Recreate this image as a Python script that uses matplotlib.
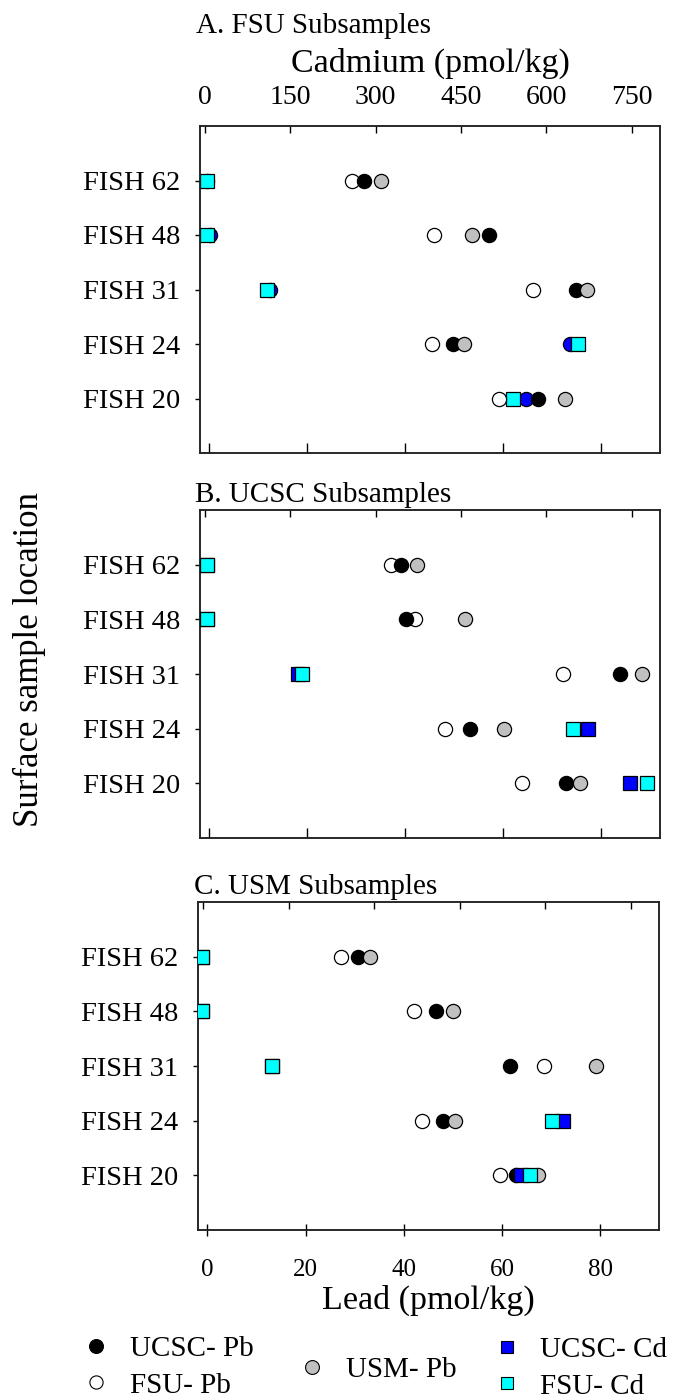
import matplotlib
matplotlib.use("Agg")
import matplotlib.pyplot as plt
from matplotlib.lines import Line2D

plt.rcParams['font.family'] = ['Liberation Serif', 'DejaVu Serif']

# ---------------- data ----------------
locations = ['FISH 62', 'FISH 48', 'FISH 31', 'FISH 24', 'FISH 20']
ypos = [5, 4, 3, 2, 1]

panel_titles = ['A. FSU Subsamples', 'B. UCSC Subsamples', 'C. USM Subsamples']

# Lead (pmol/kg)
pbA_ucsc = [31.6, 57.1, 74.9, 49.7, 67.1]
pbA_fsu = [29.1, 45.8, 66.0, 45.4, 59.1]
pbA_usm = [35.0, 53.6, 77.1, 51.9, 72.6]
pbB_ucsc = [39.2, 40.2, 83.8, 53.3, 72.8]
pbB_fsu = [37.1, 42.0, 72.1, 48.1, 63.8]
pbB_usm = [42.4, 52.2, 88.3, 60.2, 75.7]
pbC_ucsc = [30.7, 46.5, 61.6, 48.0, 62.8]
pbC_fsu = [27.3, 42.0, 68.6, 43.7, 59.7]
pbC_usm = [33.2, 50.1, 79.2, 50.4, 67.4]

# Cadmium (pmol/kg)
cdA_ucsc = [3, 9, 114, 642, 565]
cdA_fsu = [3, 4, 109, 655, 542]
cdB_ucsc = [3, 4, 164, 674, 748]
cdB_fsu = [3, 4, 170, 647, 777]
cdC_ucsc = [-2, -2, 120, 631, 558]
cdC_fsu = [-2, -2, 120, 613, 573]

pb_ticks = [0, 20, 40, 60, 80]
cd_ticks = [0, 150, 300, 450, 600, 750]

panels = [
    (pbA_ucsc, pbA_fsu, pbA_usm, cdA_ucsc, cdA_fsu),
    (pbB_ucsc, pbB_fsu, pbB_usm, cdB_ucsc, cdB_fsu),
    (pbC_ucsc, pbC_fsu, pbC_usm, cdC_ucsc, cdC_fsu),
]

# ---------------- figure ----------------
W, H = 686, 1399
fig = plt.figure(figsize=(W / 100, H / 100), dpi=100)

boxes = [(200, 126, 660, 453), (200, 510, 660, 838), (198, 902, 659, 1230)]
title_pos = [(196, 32.7), (195, 501.7), (194, 894)]

circ_ms = 10.2
sq_ms = 9.6
mew = 0.9

for i, (box, data) in enumerate(zip(boxes, panels)):
    l, t, r, b = box
    hgt = b - t
    ax = fig.add_axes([l / W, 1 - b / H, (r - l) / W, hgt / H])
    axc = ax.twiny()
    pb_u, pb_f, pb_s, cd_u, cd_f = data

    # Lead: circles
    ax.plot(pb_f, ypos, 'o', ls='none', ms=circ_ms, mfc='white', mec='black', mew=mew, zorder=3)
    ax.plot(pb_u, ypos, 'o', ls='none', ms=circ_ms, mfc='black', mec='black', mew=mew, zorder=4)
    ax.plot(pb_s, ypos, 'o', ls='none', ms=circ_ms, mfc='#C0C0C0', mec='black', mew=mew, zorder=5)

    # Cadmium
    if i == 0:
        axc.plot(cd_u, ypos, 'o', ls='none', ms=circ_ms, mfc='#0000FF', mec='black', mew=mew, zorder=3)
        ax.set_zorder(axc.get_zorder() + 1)
        ax.patch.set_visible(False)
    else:
        axc.plot(cd_u, ypos, 's', ls='none', ms=sq_ms, mfc='#0000FF', mec='black', mew=mew, zorder=3)
    axc.plot(cd_f, ypos, 's', ls='none', ms=sq_ms, mfc='#00FFFF', mec='black', mew=mew, zorder=4)

    ax.set_xlim(-1.9, 92.0)
    axc.set_xlim(-9, 800)
    ax.set_ylim(0, 6)
    ax.set_xticks(pb_ticks)
    axc.set_xticks(cd_ticks)
    ax.set_yticks(ypos)
    ax.set_yticklabels(locations)

    for a in (ax, axc):
        for s in a.spines.values():
            s.set_linewidth(1.1)
            s.set_color('#222222')

    ax.tick_params(axis='y', direction='out', length=3.6, width=1.0, pad=10.5,
                   labelsize=20.5, colors='black')
    if i == 2:
        ax.tick_params(axis='x', direction='inout', length=8.6, width=1.0, pad=16.5,
                       labelsize=18, labelbottom=True)
        ax.set_xlabel('Lead (pmol/kg)', fontsize=24.5)
        ax.xaxis.label.set_verticalalignment('baseline')
        ax.xaxis.set_label_coords(0.5, (b - 1309) / hgt)
    else:
        ax.tick_params(axis='x', direction='in', length=7, width=1.0, labelbottom=False)
    axc.tick_params(axis='x', direction='in', length=5, width=1.0, pad=11.5,
                    labelsize=20, labeltop=(i == 0))
    if i == 0:
        axc.set_xlabel('Cadmium (pmol/kg)', fontsize=24.5)
        axc.xaxis.label.set_verticalalignment('baseline')
        axc.xaxis.set_label_coords(0.5, (b - 72) / hgt)

    tx, ty = title_pos[i]
    fig.text(tx / W, 1 - ty / H, panel_titles[i], fontsize=21, ha='left', va='baseline')

fig.text(29 / W, 1 - 660 / H, 'Surface sample location', fontsize=25,
         rotation=90, ha='center', va='center')

# ---------------- legend ----------------
lms = 10
h_ucsc_pb = Line2D([], [], marker='o', ls='none', ms=lms, mfc='black', mec='black', mew=0.8)
h_fsu_pb = Line2D([], [], marker='o', ls='none', ms=lms * 0.95, mfc='white', mec='black', mew=0.8)
h_usm_pb = Line2D([], [], marker='o', ls='none', ms=lms, mfc='#C0C0C0', mec='black', mew=0.8)
h_ucsc_cd = Line2D([], [], marker='s', ls='none', ms=9.2, mfc='#0000FF', mec='black', mew=0.8)
h_fsu_cd = Line2D([], [], marker='s', ls='none', ms=9.2, mfc='#00FFFF', mec='black', mew=0.8)

leg_kw = dict(frameon=False, fontsize=21, handlelength=0.8, handletextpad=0.76,
              borderpad=0, borderaxespad=0, labelspacing=0.36, loc='center left')
fig.legend(handles=[h_ucsc_pb, h_fsu_pb], labels=['UCSC- Pb', 'FSU- Pb'],
           bbox_to_anchor=(84.3 / W, 1 - 1367 / H), **leg_kw)
fig.legend(handles=[h_usm_pb], labels=['USM- Pb'],
           bbox_to_anchor=(300 / W, 1 - 1370 / H), **leg_kw)
fig.legend(handles=[h_ucsc_cd, h_fsu_cd], labels=['UCSC- Cd', 'FSU- Cd'],
           bbox_to_anchor=(495 / W, 1 - 1368 / H), **leg_kw)

fig.savefig('out.png', dpi=100)
